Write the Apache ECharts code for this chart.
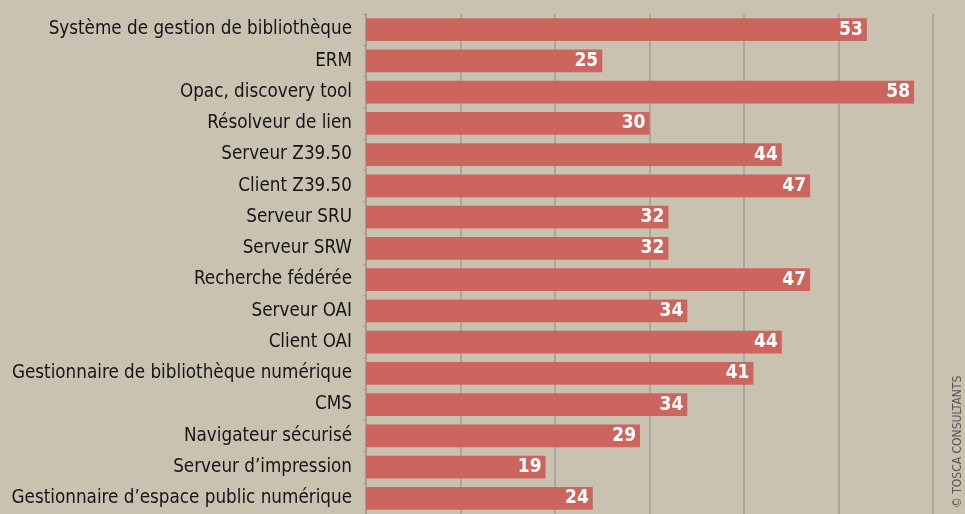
<!DOCTYPE html>
<html><head><meta charset="utf-8">
<script src="https://cdn.jsdelivr.net/npm/echarts@6/dist/echarts.min.js"></script>
<style>html,body{margin:0;padding:0;background:#c9c2b1;}#c{width:965px;height:514px;}</style>
</head><body><div id="c"></div>
<script>
const categories = ["Système de gestion de bibliothèque","ERM","Opac, discovery tool","Résolveur de lien","Serveur Z39.50","Client Z39.50","Serveur SRU","Serveur SRW","Recherche fédérée","Serveur OAI","Client OAI","Gestionnaire de bibliothèque numérique","CMS","Navigateur sécurisé","Serveur d’impression","Gestionnaire d’espace public numérique"];
const values = [53,25,58,30,44,47,32,32,47,34,44,41,34,29,19,24];
const credit = "© TOSCA CONSULTANTS";

const FF = '"DejaVu Sans Condensed", "Roboto", sans-serif';
const chart = echarts.init(document.getElementById('c'));
chart.setOption({
  backgroundColor: '#c9c2b1',
  animation: false,
  grid: {left: 366, right: 32, top: 14, bottom: 0, containLabel: false},
  xAxis: {type: 'value', min: 0, max: 60, interval: 10, position: 'top',
    axisLabel: {show: false}, axisLine: {show: false}, axisTick: {show: false},
    splitLine: {show: true, lineStyle: {color: '#a09d96', width: 1.5}}},
  yAxis: {type: 'category', data: categories, inverse: true,
    axisLine: {show: true, lineStyle: {color: '#a09d96', width: 1.5}},
    axisTick: {show: true, length: 3, lineStyle: {color: '#a09d96'}},
    axisLabel: {color: '#151515', fontFamily: FF, fontSize: 18.7, margin: 14}},
  series: [{type: 'bar', data: values, barCategoryGap: '27%',
    itemStyle: {color: '#cd655f'},
    label: {show: true, position: 'insideRight', distance: 4, color: '#fff',
      fontFamily: FF, fontWeight: 'bold', fontSize: 19}}],
  graphic: [{type: 'text', x: 952, y: 508, rotation: Math.PI/2,
    style: {text: credit, fill: '#555', font: '12px "DejaVu Sans Condensed", Roboto, sans-serif', textAlign: 'left', textVerticalAlign: 'top'}}]
});
</script></body></html>
